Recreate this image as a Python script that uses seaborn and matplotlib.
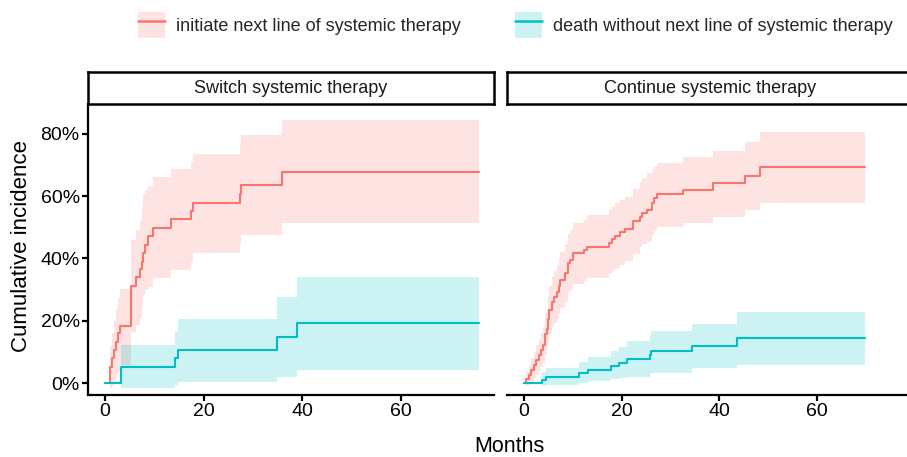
import numpy as np
import pandas as pd
import matplotlib
matplotlib.use("Agg")
import matplotlib.pyplot as plt
import seaborn as sns
from matplotlib.patches import Patch
from matplotlib.lines import Line2D
from matplotlib.legend_handler import HandlerTuple
from matplotlib.ticker import FuncFormatter

sns.set_style("white")
plt.rcParams["font.family"] = ["Liberation Sans", "DejaVu Sans"]

panels = ["Switch systemic therapy", "Continue systemic therapy"]
events = ["initiate next line of systemic therapy",
          "death without next line of systemic therapy"]
colors = ["#F8766D", "#00BFC4"]
end_time = [75.8, 69.8]

# ---- Switch systemic therapy: initiate next line ----
sw_init_t = [1.0, 1.35, 1.8, 2.2, 2.6, 3.0, 5.3, 6.3, 7.0, 7.5, 7.8, 8.1, 8.7, 9.8,
             13.3, 17.5, 17.9, 27.4, 27.6, 36.0]
sw_init_est = [5.2, 7.9, 10.6, 13.3, 16.0, 18.3, 31.2, 33.9, 36.5, 39.0, 41.6, 44.3, 47.2, 49.9,
               52.6, 55.2, 57.9, 60.7, 63.6, 67.8]
sw_init_lo = [-1.5, -0.8, 0.5, 1.8, 3.5, 5.8, 16.5, 18.6, 20.8, 24.5, 28.3, 29.9, 30.9, 33.6,
              36.3, 38.9, 41.6, 44.8, 47.5, 51.3]
sw_init_hi = [12.0, 16.0, 20.0, 23.4, 27.3, 30.2, 45.9, 49.1, 52.0, 56.0, 60.6, 62.0, 63.2, 66.0,
              68.6, 71.0, 73.7, 77.0, 79.6, 84.4]

# ---- Switch systemic therapy: death without next line ----
sw_death_t = [3.2, 14.2, 14.9, 34.9, 39.0]
sw_death_est = [5.2, 7.9, 10.6, 14.9, 19.2]
sw_death_lo = [-1.7, -0.6, 0.4, 2.0, 4.2]
sw_death_hi = [12.2, 16.5, 20.4, 27.7, 34.1]

# ---- Continue systemic therapy: initiate next line ----
co_init_t = [0.4, 1.0, 1.5, 2.0, 2.5, 3.0, 3.4, 3.8, 4.2, 4.6, 4.9, 5.1, 5.7, 6.2, 6.7, 7.1,
             7.4, 8.4, 9.1, 9.5, 10.1, 12.2, 12.9, 17.5, 18.0, 18.7, 19.6, 20.6, 22.3, 23.7,
             24.2, 25.1, 26.2, 26.7, 27.2, 32.6, 38.7, 45.2, 48.3]
co_init_est = [1.3, 2.6, 4.2, 5.8, 7.5, 9.0, 10.6, 12.2, 15.7, 17.5, 20.5, 23.4, 26.1, 27.7,
               29.3, 31.2, 33.1, 35.2, 38.4, 39.5, 41.6, 42.7, 43.8, 45.0, 46.1, 47.2, 48.6,
               49.5, 52.0, 53.4, 54.5, 55.5, 57.9, 59.3, 60.6, 62.0, 64.1, 66.5, 69.3]
co_init_lo = [-1.0, -0.5, 0.3, 1.5, 2.7, 3.8, 5.0, 6.3, 9.0, 10.6, 13.1, 15.6, 17.9, 19.3,
              20.6, 22.3, 24.0, 25.9, 28.8, 29.9, 31.8, 32.9, 33.6, 35.0, 36.0, 36.8, 37.9,
              39.2, 41.4, 43.6, 44.5, 45.4, 47.5, 48.8, 50.0, 51.5, 53.2, 55.5, 57.9]
co_init_hi = [3.6, 5.7, 8.0, 10.0, 12.3, 14.2, 16.2, 18.1, 22.4, 24.4, 27.8, 31.2, 34.3, 36.1,
              38.0, 40.1, 42.2, 44.5, 47.9, 49.1, 51.3, 52.4, 53.9, 55.5, 56.6, 57.7, 58.7,
              59.8, 62.2, 64.6, 65.9, 67.5, 68.6, 69.7, 70.7, 72.5, 74.6, 77.3, 80.5]

# ---- Continue systemic therapy: death without next line ----
co_death_t = [3.6, 4.5, 11.3, 13.2, 17.8, 19.4, 21.1, 25.9, 26.1, 34.4, 43.7]
co_death_est = [1.0, 2.0, 3.1, 4.2, 5.5, 6.5, 7.7, 9.0, 10.3, 11.9, 14.3]
co_death_lo = [-1.0, -0.6, 0.1, 0.6, 1.2, 1.5, 2.0, 2.8, 3.3, 4.7, 5.8]
co_death_hi = [3.5, 4.9, 6.6, 8.5, 10.3, 11.7, 13.5, 15.5, 16.7, 18.9, 22.7]

series = {
    (panels[0], events[0]): (sw_init_t, sw_init_est, sw_init_lo, sw_init_hi),
    (panels[0], events[1]): (sw_death_t, sw_death_est, sw_death_lo, sw_death_hi),
    (panels[1], events[0]): (co_init_t, co_init_est, co_init_lo, co_init_hi),
    (panels[1], events[1]): (co_death_t, co_death_est, co_death_lo, co_death_hi),
}

rows = []
for (panel, ev), (t, est, lo, hi) in series.items():
    tend = end_time[panels.index(panel)]
    tt = [0.0] + list(t) + [tend]
    ee = [0.0] + list(est) + [est[-1]]
    ll = [np.nan] + list(lo) + [lo[-1]]
    hh = [np.nan] + list(hi) + [hi[-1]]
    for a, b, c, d in zip(tt, ee, ll, hh):
        rows.append(dict(panel=panel, event=ev, month=a, cif=b, lo=c, hi=d))
df = pd.DataFrame(rows)

W, H = 907, 457
fig = plt.figure(figsize=(W / 100, H / 100), dpi=100)

def fx(px):
    return px / W

def fy(py):
    return 1 - py / H

panel_left = [88, 507]
panel_w = 406
p_top, p_bot = 104, 395
strip_top = 72

xlims = [(-3.45, 78.9), (-3.5, 79.7)]
ylim = (-3.85, 89.6)

for i, panel in enumerate(panels):
    ax = fig.add_axes([fx(panel_left[i]), fy(p_bot), fx(panel_w), (p_bot - p_top) / H])
    sub = df[df.panel == panel]
    for ev, col in zip(events, colors):
        s = sub[(sub.event == ev) & sub.lo.notna()]
        ax.fill_between(s.month, s.lo, s.hi, step="post", color=col, alpha=0.2,
                        linewidth=0)
    sns.lineplot(data=sub, x="month", y="cif", hue="event", hue_order=events,
                 palette=colors, drawstyle="steps-post", estimator=None, sort=False,
                 legend=False, linewidth=1.5, ax=ax)
    ax.set_xlim(*xlims[i])
    ax.set_ylim(*ylim)
    ax.set_xticks([0, 20, 40, 60])
    ax.set_yticks([0, 20, 40, 60, 80])
    ax.yaxis.set_major_formatter(FuncFormatter(lambda v, p: f"{v:.0f}%"))
    ax.set_xlabel("")
    ax.set_ylabel("")
    for sp in ["top", "right"]:
        ax.spines[sp].set_visible(False)
    ax.spines["bottom"].set_linewidth(1.6)
    ax.spines["bottom"].set_color("black")
    ax.tick_params(axis="x", length=4, width=1.6, color="black", labelsize=14,
                   labelcolor="black", pad=2, bottom=True)
    if i == 0:
        ax.spines["left"].set_linewidth(1.6)
        ax.spines["left"].set_color("black")
        ax.tick_params(axis="y", length=4, width=1.6, color="black", labelsize=14,
                       labelcolor="black", pad=2, left=True)
    else:
        ax.spines["left"].set_visible(False)
        ax.tick_params(axis="y", left=False, labelleft=False)
    ax.set_facecolor("white")

    sax = fig.add_axes([fx(panel_left[i]), fy(p_top), fx(panel_w), (p_top - strip_top) / H])
    sax.set_xticks([])
    sax.set_yticks([])
    for sp in sax.spines.values():
        sp.set_linewidth(1.8)
        sp.set_color("black")
        sp.set_visible(True)
    sax.set_facecolor("white")
    sax.text(0.5, 0.48, panel, ha="center", va="center", fontsize=13,
             transform=sax.transAxes, color="#1a1a1a")

fig.text(fx(22), fy(246), "Cumulative incidence", rotation=90, ha="center",
         va="center", fontsize=16, color="black")
fig.text(fx(509), fy(447), "Months", ha="center", va="center", fontsize=15.5,
         color="black")

handles = [(Patch(facecolor=c, alpha=0.2, edgecolor="none"),
            Line2D([], [], color=c, linewidth=1.8)) for c in colors]
fig.legend(handles, events, handler_map={tuple: HandlerTuple(ndivide=1, pad=0)},
           loc="center", bbox_to_anchor=(fx(515), fy(25)), ncol=2, frameon=False,
           fontsize=13, handlelength=1.5, handleheight=1.85, handletextpad=0.6,
           columnspacing=3.0, borderaxespad=0)

fig.savefig("out.png", dpi=100, facecolor="white")
